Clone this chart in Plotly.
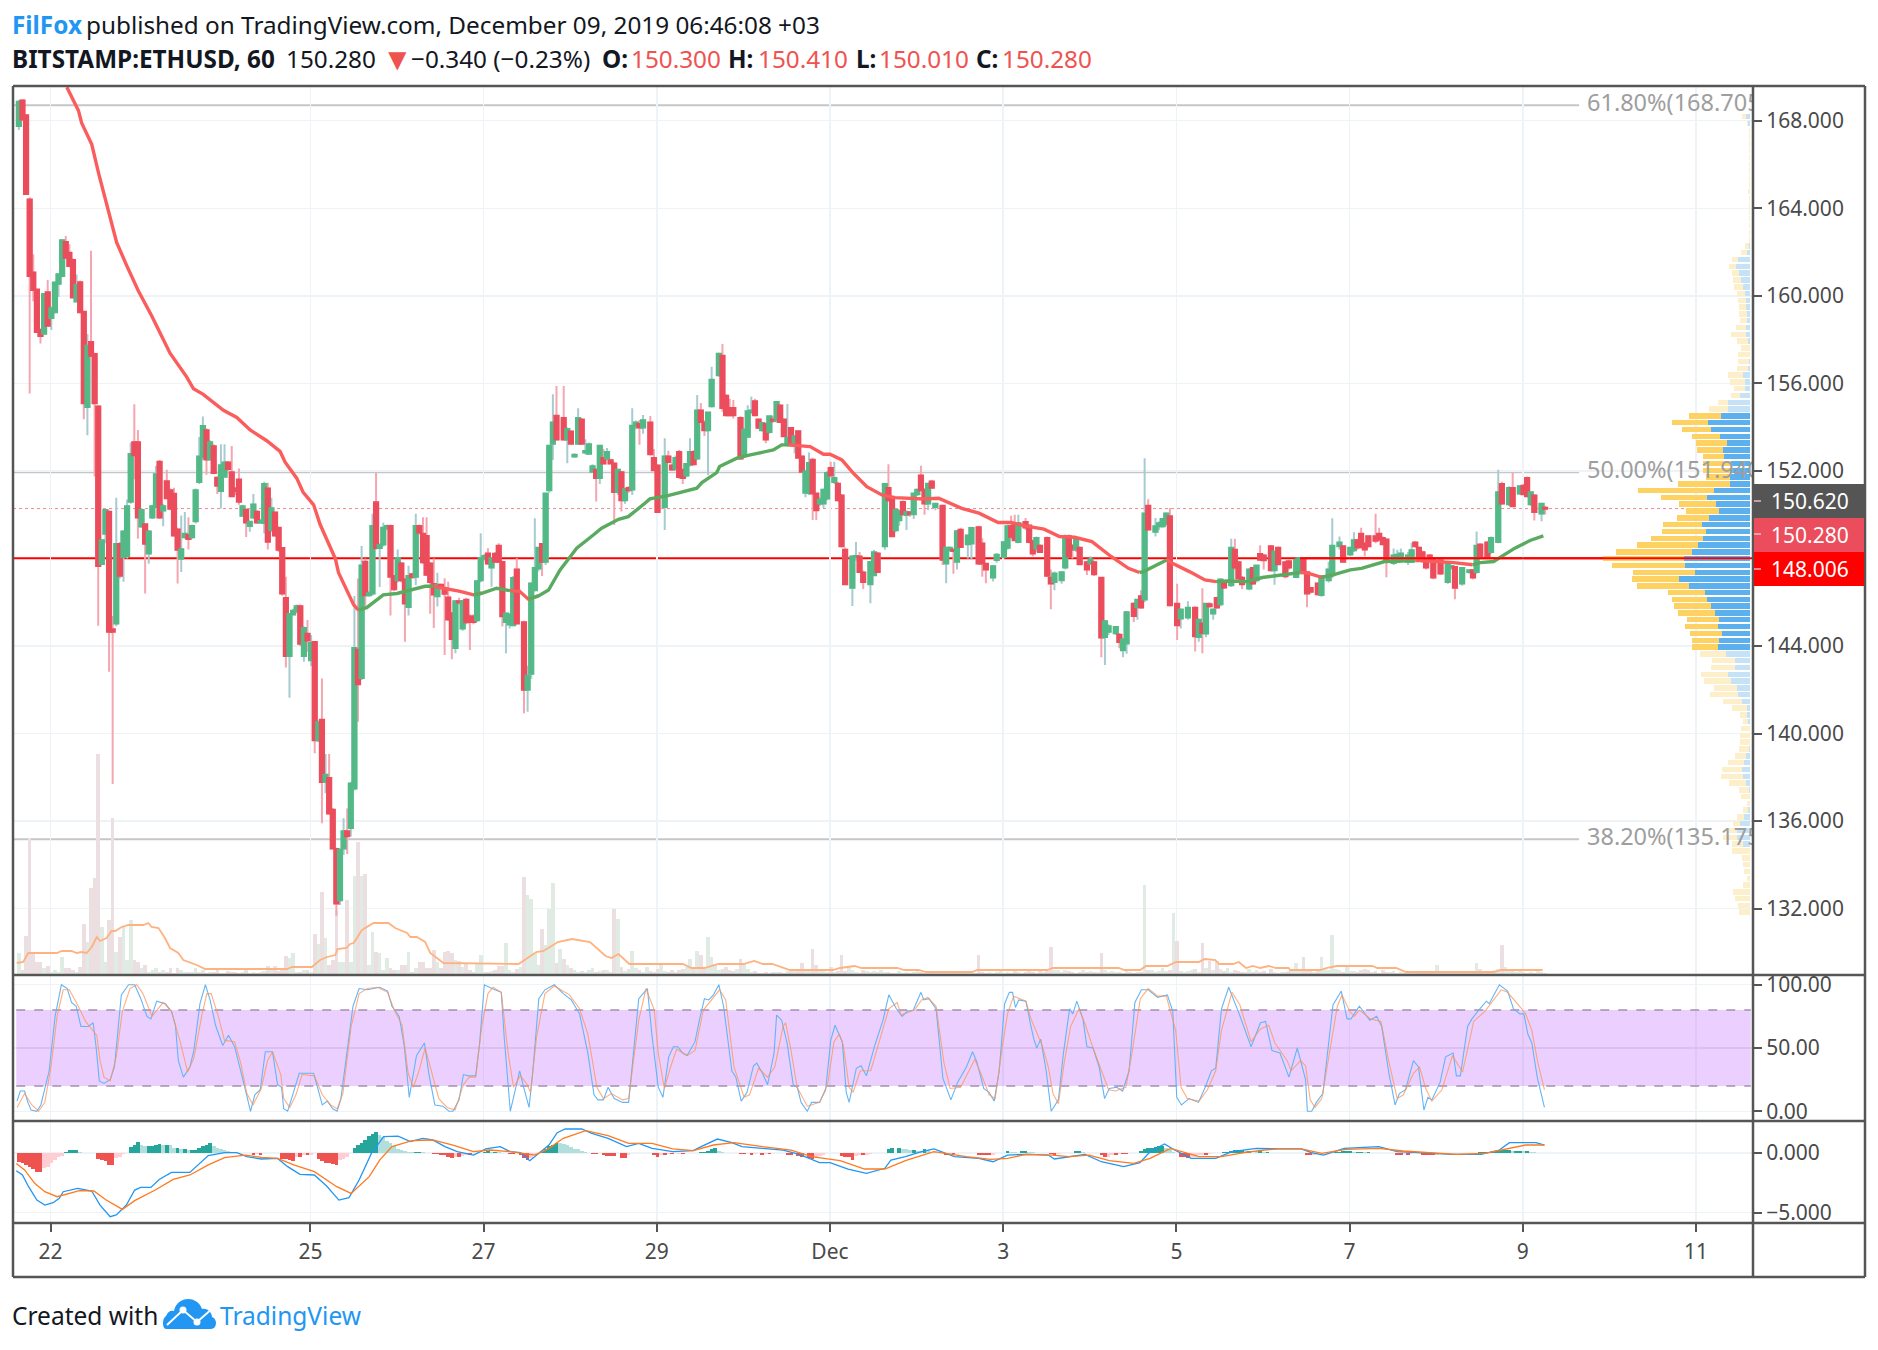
import plotly.graph_objects as go

W, H = 1878, 1350
FONT = "Noto Sans"

# ---------- candles (hour offsets from Nov 22 00:00, +03) ----------
bar_hours = list(range(-9, 119)) + [
119,120,121,122,123,124,125,126,127,128,129,131,132,133,134,135,136,137,138,139,140,
142,143,144,145,146,147,148,149,150,151,152,153,154,155,156,157,158,159,160,161,162,163,164,
166,167,168,170,171,172,173,174,175,176,177,178,179,180,181,182,183,185,186,187,188,189,
191,192,193,194,195,196,197,198,199,200,201,202,203,204,205,206,207,208,209,210,211,212,213,214,215,216,217,218,219,220,
222,223,224,225,227,228,229,231,232,233,234,235,236,237,238,239,240,241,242,243,244,245,247,248,249,250,251,252,
254,255,257,258,259,261,262,264,265,266,267,268,270,271,272,273,274,276,277,278,280,281,282,283,284,285,287,288,289,
291,292,293,295,296,297,298,300,301,302,303,304,306,307,308,309,310,312,313,315,317,318,319,320,321,322,323,324,325,
327,328,329,330,332,333,334,335,336,338,339,340,342,343,345,346,347,348,349,351,352,354,355,357,358,360,361,362,363,364,365,
367,368,369,370,372,373,374,376,377,378,379,380,381,382,383,385,387,388,389,391,393,394,395,396,398,399,401,402,404,405,407,408,409,410,411,413,414]

opens = [
167.77,168.91,168.23,164.39,161.05,160.27,158.44,158.28,160.15,159.0,
159.26,160.56,160.92,162.44,161.95,161.62,159.75,160.61,159.26,154.93,
157.87,157.33,154.93,147.76,149.14,150.12,144.75,145.04,148.65,148.08,
148.13,150.61,153.3,153.3,149.47,149.55,148.24,149.88,150.37,152.4,
150.2,151.51,151.1,150.94,149.31,148.0,148.98,149.06,148.98,149.71,
151.51,152.65,153.84,152.54,153.11,151.67,151.1,151.75,152.37,151.92,
151.18,151.59,149.96,150.2,149.5,149.88,150.12,149.66,149.63,151.18,
149.31,150.09,149.39,148.46,146.18,143.56,145.45,145.6,145.8,143.56,
144.55,143.36,144.17,139.71,140.62,137.8,137.96,136.51,134.71,132.4,
134.76,135.52,135.7,137.5,143.82,142.55,147.84,146.33,146.41,150.56,
148.49,148.65,149.39,149.47,147.18,147.02,147.76,147.02,145.8,147.27,
147.18,149.47,149.11,149.01,147.76,146.82,146.29,146.78,146.61,146.2,
145.47,143.92,146.03,144.81,146.1,145.34,145.34,145.19,
147.02,148.0,148.21,147.6,148.2,148.57,147.83,145.11,145.0,144.96,147.48,145.07,142.02,142.75,146.56,147.55,148.65,147.86,151.13,153.26,154.51,
154.4,153.45,153.79,152.67,153.26,154.33,152.85,152.8,151.97,152.04,151.69,152.58,152.58,152.47,152.32,151.05,151.92,150.67,151.2,151.16,154.05,154.13,154.0,
154.2,152.58,152.23,150.37,152.65,152.23,152.12,152.85,152.04,151.8,152.3,152.85,152.58,154.75,154.2,153.87,154.97,156.38,157.25,155.42,154.86,154.86,
154.4,152.73,153.57,154.7,155.17,154.33,153.87,154.13,153.79,154.33,154.33,154.97,154.33,153.2,153.95,153.19,153.8,152.65,151.02,151.0,152.5,150.95,150.52,150.52,150.75,152.12,151.51,151.4,150.86,148.39,
146.67,148.08,148.08,147.35,146.84,147.25,148.21,148.57,151.21,150.67,149.3,149.76,150.57,150.0,150.1,150.03,150.95,151.78,151.13,150.52,151.5,150.37,150.4,147.78,148.4,148.39,147.86,149.3,
148.66,148.7,149.41,148.67,147.75,147.14,147.94,148.09,148.5,149.46,149.53,148.77,149.65,149.49,148.77,148.47,148.57,148.92,147.1,146.94,147.02,147.6,149.0,148.57,148.42,148.47,147.81,147.78,147.81,
147.1,144.43,144.66,144.6,144.5,143.82,144.13,145.92,145.8,146.26,146.14,150.4,149.23,149.49,149.49,149.6,149.91,145.92,145.27,145.32,145.73,144.43,145.01,144.58,145.9,145.5,146.18,145.92,146.91,
146.79,148.39,147.81,147.1,146.64,147.55,147.02,148.19,148.12,148.54,147.48,148.47,147.81,147.86,147.17,147.48,147.93,147.36,146.64,146.84,146.34,147.02,147.25,148.57,148.54,148.2,148.39,148.82,149.12,148.66,149.0,
149.0,149.12,148.92,148.85,147.81,147.86,147.96,147.86,147.86,148.72,148.47,148.27,147.96,148.12,147.93,147.9,146.94,147.6,147.6,146.87,147.4,147.45,147.4,148.62,148.72,148.31,148.77,151.39,150.49,151.21,150.98,151.31,151.66,150.49,150.86,150.07,150.3]

highs = [
168.95,168.98,168.3,164.5,161.9,160.3,158.5,160.1,160.72,159.5,
160.65,161.0,162.6,162.73,162.36,161.7,160.97,160.7,159.3,158.25,
162.06,157.4,155.0,148.82,150.25,150.2,145.37,150.77,148.75,149.3,
150.69,153.3,155.05,153.87,150.3,149.6,149.3,150.45,152.24,152.5,
150.5,152.05,151.2,151.23,149.4,149.96,150.12,149.88,149.55,151.2,
153.55,154.49,153.95,153.4,153.22,151.75,153.22,153.22,152.45,153.14,
151.25,152.11,150.45,150.3,149.7,150.94,150.2,149.8,151.51,151.46,
150.77,150.15,149.45,148.5,147.17,145.5,145.7,145.9,145.9,144.9,
145.19,144.5,144.2,140.6,142.52,139.07,139.07,136.6,134.8,134.7,
136.13,136.58,137.8,146.28,147.09,148.57,148.0,146.5,150.04,151.92,
148.7,149.63,149.55,149.55,147.25,148.41,147.85,147.1,147.67,147.35,
150.04,149.55,149.88,149.88,147.85,148.0,147.35,146.85,147.1,146.94,
145.55,146.1,146.2,146.1,146.2,145.45,145.45,147.0,
149.15,148.2,148.47,148.05,148.3,148.7,147.9,145.5,145.5,147.2,148.01,145.15,143.1,146.9,149.84,148.5,148.7,151.0,153.2,155.5,155.88,
155.88,154.0,153.85,152.8,154.86,154.4,153.45,153.3,152.3,152.1,153.2,153.0,153.05,152.55,152.4,152.1,152.0,151.2,151.3,154.86,154.3,154.33,154.55,
154.51,153.0,152.3,153.49,152.92,152.35,152.7,152.95,152.1,152.35,153.49,152.95,155.47,155.1,154.3,154.7,156.76,157.4,157.8,155.5,155.3,155.24,
154.5,153.95,155.0,155.4,155.3,154.4,154.25,154.2,154.5,154.5,155.14,155.05,154.4,155.06,154.0,153.6,153.85,152.7,152.0,152.84,152.6,151.0,150.8,151.2,152.0,152.42,152.42,151.5,150.95,148.5,
148.15,148.75,148.3,147.45,147.9,148.4,148.3,151.45,152.3,150.75,150.25,150.2,150.65,150.2,150.15,151.0,151.2,152.23,151.2,151.45,151.6,150.55,150.45,148.5,148.55,148.45,149.3,149.4,
149.1,149.45,149.5,148.92,147.8,147.7,148.25,148.8,149.55,149.95,150.0,150.0,149.85,149.55,148.85,149.0,148.65,149.0,147.5,147.4,147.4,149.1,149.1,148.65,148.9,148.55,147.9,148.1,147.9,
147.15,145.2,145.0,144.9,144.6,144.35,145.6,146.0,146.15,146.55,152.58,150.7,149.85,149.7,149.85,150.1,150.3,146.85,145.7,146.05,145.8,145.25,146.64,145.95,146.0,145.7,146.25,147.1,147.0,
148.9,148.9,147.9,147.2,147.55,147.6,147.7,148.6,148.2,148.6,148.35,148.55,147.9,147.95,148.0,148.05,148.0,147.4,146.7,146.9,147.2,147.85,149.84,149.0,148.6,148.5,149.2,148.9,149.4,148.75,149.05,
150.04,149.4,149.0,148.9,148.45,148.4,148.45,148.3,148.72,148.8,148.55,148.35,148.05,148.2,148.0,148.0,147.9,147.7,147.65,147.6,147.5,147.5,149.23,148.7,148.8,149.0,152.05,151.5,151.3,151.94,151.35,151.4,151.75,151.05,150.95,150.55,150.41]

lows = [
167.58,168.0,164.6,155.54,159.75,158.3,157.82,158.25,158.6,158.44,
159.2,159.94,160.85,161.7,161.3,159.9,159.7,159.2,154.36,153.63,
157.2,151.75,144.93,147.7,148.7,142.83,137.7,144.9,147.1,146.94,
148.0,150.5,151.62,148.9,149.4,146.4,147.76,149.8,150.3,149.8,
149.47,150.7,150.2,149.0,146.86,147.38,148.9,148.41,148.9,149.6,
151.4,152.5,151.83,152.5,151.85,150.94,150.28,151.7,152.0,150.8,
150.9,150.45,149.9,148.98,149.22,149.8,149.6,149.6,149.14,148.41,
149.2,149.0,148.3,146.3,143.02,141.64,145.4,145.5,144.0,143.28,
143.74,143.09,139.1,139.6,135.9,137.27,136.3,134.7,131.68,132.17,
134.45,134.5,135.3,137.4,140.54,142.45,145.7,146.25,146.3,148.4,
146.7,148.55,149.3,145.39,146.5,146.9,146.9,144.2,145.39,147.1,
146.78,149.1,147.75,147.2,145.47,144.82,145.8,146.6,143.59,145.15,
143.4,143.67,145.9,144.7,145.0,143.82,145.0,145.1,
146.9,147.9,147.7,146.71,147.8,147.8,144.89,143.67,144.8,144.9,145.0,140.93,141.0,142.5,146.5,147.4,147.2,147.7,151.0,152.5,153.4,
153.4,152.35,153.2,152.6,153.2,153.2,152.75,152.75,151.9,150.6,151.4,152.3,152.5,152.3,149.53,150.9,150.14,150.5,151.0,150.9,153.9,153.2,153.7,
152.7,152.0,150.1,149.3,152.35,152.0,152.0,151.65,151.4,151.7,152.2,152.25,152.5,154.2,153.6,151.8,154.9,156.3,154.7,154.5,154.5,154.4,
152.5,152.6,153.5,154.6,154.5,153.9,153.8,153.26,153.7,154.2,154.2,154.2,153.55,153.1,153.1,152.8,152.55,151.9,150.8,150.9,149.76,149.76,150.4,150.3,150.65,151.75,151.4,150.6,148.5,146.8,
145.83,147.9,147.35,146.6,145.95,147.2,147.35,148.4,150.6,149.0,149.2,149.5,150.0,149.3,149.9,149.8,150.85,151.1,150.0,150.2,151.2,150.2,147.7,146.87,148.3,147.3,147.5,148.5,
148.0,147.93,147.7,147.17,146.87,146.95,147.8,148.0,148.4,148.9,148.8,148.7,149.3,148.7,148.1,148.3,148.25,147.15,145.68,146.55,146.85,147.5,148.05,148.0,148.3,147.7,147.25,147.7,147.2,
143.49,143.13,144.5,144.5,143.9,143.49,143.65,145.1,145.2,145.7,146.0,149.3,149.0,149.3,149.4,149.5,145.8,144.28,144.8,145.2,143.75,144.2,143.67,144.4,145.75,145.2,145.7,145.8,146.6,
146.7,147.5,147.0,146.6,146.55,146.8,146.9,147.9,147.5,147.4,146.8,147.7,147.1,147.5,147.1,147.4,147.3,145.77,146.4,146.3,146.25,146.9,147.1,148.4,147.8,148.1,148.3,148.4,148.45,148.1,148.5,
148.7,148.8,148.6,147.14,147.7,147.8,147.8,147.7,147.8,148.5,147.9,147.8,147.5,147.85,147.05,147.25,146.85,147.5,146.14,146.75,147.3,147.05,147.3,148.0,148.0,148.2,148.7,150.45,150.4,150.35,150.9,150.9,150.8,150.4,149.73,149.7,150.01]

closes = [
168.85,168.07,164.67,160.92,160.28,158.36,158.18,160.07,158.64,159.42,
160.59,160.97,162.52,161.75,161.38,159.94,160.48,159.26,155.1,157.71,
157.27,155.1,147.67,148.82,150.2,144.66,144.66,148.65,147.22,149.22,
150.37,152.76,152.73,149.88,150.2,148.69,149.22,150.37,151.83,149.88,
150.37,150.77,150.28,149.06,148.41,148.41,149.11,148.9,149.47,151.1,
152.65,154.04,152.54,153.3,151.92,151.34,152.24,152.37,152.1,150.86,
151.1,150.61,150.37,149.66,149.66,150.45,149.66,149.7,151.39,148.78,
150.28,149.06,148.41,146.41,143.56,145.45,145.6,145.8,144.12,144.81,
144.27,144.12,139.71,140.5,137.8,138.1,136.36,134.76,132.25,134.68,
135.52,135.32,137.7,143.9,142.27,147.67,146.33,146.4,149.47,148.49,
148.6,149.39,149.47,147.18,146.61,148.0,147.02,145.96,147.18,147.15,
149.47,149.2,147.84,147.27,146.94,146.37,146.78,146.7,146.4,145.23,
144.33,146.03,146.0,146.03,145.1,145.11,145.11,146.94,
148.0,148.1,147.78,148.0,147.86,147.86,145.37,145.47,145.42,147.09,145.04,142.02,142.63,146.84,147.55,148.47,147.86,150.95,153.14,154.2,153.45,
153.45,153.9,153.26,152.73,154.4,153.26,152.9,153.2,152.2,151.69,153.14,152.35,152.85,152.35,151.05,152.04,150.67,151.16,151.13,154.05,154.2,154.0,154.3,
152.77,152.04,150.14,152.65,152.42,152.08,152.58,151.74,151.69,152.3,152.85,152.32,154.75,154.25,153.87,154.66,156.15,157.34,154.89,154.56,154.56,154.56,
152.58,153.87,154.71,154.75,154.56,153.98,154.18,153.45,154.48,154.3,155.14,154.25,153.6,153.5,153.19,153.57,152.62,151.97,151.97,152.35,150.98,150.22,150.67,151.13,151.89,151.8,151.66,150.67,148.57,146.84,
148.08,148.1,147.4,146.94,147.83,148.27,147.4,151.39,150.67,149.03,150.2,150.14,150.03,150.1,150.06,150.95,151.13,151.13,150.52,151.4,151.25,150.49,147.96,148.47,148.47,148.36,149.23,148.54,
149.03,149.38,147.78,147.78,147.51,147.63,148.16,148.73,149.46,149.0,148.85,149.61,149.43,148.77,148.24,148.92,148.31,147.22,146.87,147.3,147.36,149.0,148.12,148.42,148.85,147.75,147.51,147.94,147.29,
144.4,145.12,144.89,144.85,144.2,144.28,145.53,145.38,146.1,145.77,150.04,149.34,149.46,149.6,149.79,150.04,145.88,144.96,145.65,145.73,144.46,145.19,144.61,145.92,145.83,145.65,145.77,147.02,146.69,
148.47,147.6,147.1,146.84,147.48,146.87,147.66,147.96,147.93,147.48,148.31,147.75,147.2,147.6,147.93,148.01,147.4,146.41,146.49,146.38,147.17,147.48,148.57,148.72,147.86,148.47,148.82,148.51,148.54,148.42,148.57,
148.82,148.88,148.66,147.86,148.12,148.16,148.21,148.12,148.36,148.57,147.96,147.9,147.6,147.93,147.14,147.33,147.81,147.64,146.67,147.55,147.45,147.14,148.57,148.09,148.06,148.92,151.01,150.52,151.21,150.4,151.28,150.95,150.86,151.01,150.14,150.49,150.28]

# ---------- moving average ----------
ma_red_hours = [4.5,7.7,8.6,11.4,13.4,16.5,18.3,21.1,24.3,28,29.4,33.1,37.7,39.6,42.3,47.9,51.6,55.3,59.9,63.6,65,68.2,70,72.9,74.7,78.9,79.8,84,85.3,None,
106.1,110.3,113.5,117.2,119.5,None,127.3,130,132.4,135.2,None,204.5,210.5,214.2,216,219.3,222.5,226.2,230.4,234,238.2,241.9,246.1,250.2,252.5,257.3,262.6,266.3,270,275.3,279.6,283.8,288.6,293.9,298.7,301.8,None,
309.3,310.9,315.6,319.9,323,None,346.4,348.5,352.2,355.4,None,378.2,379.3,388.8,394.1]
ma_red_values = [169.53,168.47,167.9,166.92,165.54,163.66,162.44,161.38,160.23,159.09,158.6,157.38,156.3,155.75,155.5,154.77,154.44,153.87,153.38,152.89,152.4,151.67,151.02,150.45,149.55,148.0,147.35,145.88,145.64,None,
146.73,146.61,146.5,146.34,146.41,None,146.53,146.5,146.14,146.29,None,153.19,153.11,152.76,152.76,152.5,151.89,151.28,150.9,150.78,150.75,150.72,150.75,150.45,150.29,150.07,149.64,149.64,149.49,149.34,149.0,148.97,148.77,148.09,147.55,147.36,None,
147.93,147.78,147.4,147.02,146.94,None,147.36,147.33,147.14,147.25,None,147.9,147.9,147.81,147.71]
ma_green_hours = [85.3,87.6,92.2,96,103.8,106.1,None,117.2,119.5,123.6,127.3,None,132.4,135.2,138,141.2,144,145.8,150.4,152.7,157.4,160.1,164.7,166.1,170.8,174.5,179.1,180.5,184.6,185.4,190.2,193.9,200.3,202.6,204.5,None,
301.8,302.9,309.3,None,323,326.2,331.5,335.8,346.4,None,352.2,355.4,360.2,363.3,369.7,378.2,None,394.1,396.2,399.9,405.8,410,413.7]
ma_green_values = [145.64,145.75,146.34,146.4,146.73,146.73,None,146.34,146.41,146.64,146.53,None,146.14,146.29,146.56,147.48,148.08,148.47,149.07,149.38,149.79,149.91,150.52,150.72,150.86,151.01,151.21,151.47,151.92,152.2,152.58,152.73,152.96,153.19,153.19,None,
147.36,147.4,147.93,None,146.94,146.97,146.94,147.13,147.36,None,147.14,147.25,147.48,147.55,147.86,147.9,None,147.71,147.81,147.86,148.47,148.82,149.03]

# ---------- volume ----------
vol_values = [
22,5,39,137,22,13,13,7,9,3,
5,3,18,7,7,5,3,8,51,33,
87,97,221,48,13,55,157,23,38,48,
15,55,15,13,7,10,3,5,7,3,
5,3,7,2,7,5,3,3,3,7,
3,5,2,3,3,5,2,2,4,3,
3,2,3,5,2,3,2,3,4,9,
5,9,4,6,19,17,22,3,3,5,
5,3,41,31,83,37,10,15,65,13,
13,75,13,99,133,99,101,10,43,23,
22,5,17,7,5,5,10,10,23,3,
7,13,13,7,7,25,13,7,23,24,
22,15,14,8,11,5,3,12,20,3,
3,4,5,9,9,32,5,3,6,8,
98,80,76,22,10,46,30,66,92,12,
26,16,10,7,5,3,4,3,5,7,
3,4,5,5,3,66,56,8,4,6,
24,7,5,3,8,4,3,6,11,4,
3,5,3,5,6,8,16,8,24,20,
6,38,18,11,5,6,8,5,4,6,
16,12,6,3,4,2,2,3,2,3,
3,3,2,4,5,6,4,12,4,5,
26,10,4,5,3,8,3,4,20,4,
9,5,3,2,5,4,3,4,3,5,
3,3,2,2,4,2,3,2,3,5,
3,2,3,2,2,4,3,2,3,2,
3,2,3,2,3,2,20,3,2,3,
2,3,5,2,3,2,4,3,2,3,
5,3,2,6,3,4,28,5,5,3,
5,4,3,2,3,5,3,4,3,3,
22,5,3,4,3,3,2,4,3,2,
3,3,90,5,5,3,4,7,4,5,
62,34,4,3,4,5,6,3,32,7,
14,5,14,6,4,7,3,5,4,3,
3,6,3,5,3,4,2,6,3,2,
3,3,4,5,12,5,18,4,6,3,
4,18,7,5,40,6,5,3,9,4,
4,3,5,6,5,3,4,2,5,3,
3,4,2,3,2,3,2,4,3,2,
2,3,4,10,3,2,3,4,2,3,
2,4,3,3,12,6,3,4,3,5,
6,30,8,4,5,3,5,3,2,3,2,4,3,2]
vol_hours = list(range(-9, 415))

vol_ma_hours = [-9.4,-7.6,-6.2,-4.8,1.7,3.1,5.8,7.2,8.6,10,11.4,12.8,13.7,15.5,16.9,17.9,19.7,21.6,25.7,27.1,28,29.9,31.7,33.1,35.4,36.8,40.5,42.8,65.5,66.9,72.4,74.7,76.6,78.9,79.5,82,83,84,86.3,89.5,93.6,95.5,98.8,99.7,101.5,103.8,105.2,108.9,
129.7,134.6,136.6,140.6,144.5,149.5,153.8,155.4,157.4,160.4,175.2,177.6,181.2,185.1,192,195,197.4,200,204.9,216.8,218.8,222.8,224.7,234.6,236.6,240.6,242.6,255.4,256.8,276.2,277.8,296,297.6,302,303.5,309.5,311.9,318.2,319.8,322.8,323.8,327.7,329.3,331.3,333.2,335.2,337.6,339.6,343.1,343.5,351.9,353.5,356.4,366.3,367.7,372.9,375.6,400,402,413.5]
vol_ma_values = [12,13,22,22,22,24,24,22,23,22,28,38,34,37,44,44,48,50,50,52,48,47,37,27,22,15,10,6,6,8,8,15,18,20,26,27,31,32,45,52,52,47,42,38,38,33,22,12,
11,23,24,33,36,33,19,17,21,11,11,7,7,11,11,14,11,11,5,5,7,9,7,7,5,5,3,3,5,5,7,7,5,5,9,9,13,13,16,15,11,11,13,7,9,7,9,7,7,5,5,7,9,9,7,7,3,3,5,5]

# ---------- volume profile ----------
vp_prices = [168.18,167.87,167.56,167.25,166.94,166.63,166.32,166.01,165.70,165.39,165.07,164.76,164.45,164.14,163.83,163.52,163.21,162.90,162.59,162.28,
161.97,161.66,161.35,161.04,160.73,160.41,160.10,159.79,159.48,159.17,158.86,158.55,158.24,157.93,157.62,157.31,156.99,156.68,156.38,
156.07,155.76,155.45,155.13,154.82,154.51,154.20,153.89,153.58,153.27,152.96,152.65,152.34,152.03,151.72,151.41,151.10,150.79,150.48,150.17,149.85,
149.54,149.23,148.92,148.61,148.30,147.99,147.68,147.37,147.06,146.75,146.44,146.13,145.82,145.51,145.20,144.88,144.57,144.26,143.95,143.64,
143.33,143.02,142.71,142.40,142.09,141.78,141.47,141.16,140.85,140.54,140.23,139.92,139.61,139.29,138.98,138.67,138.36,138.05,137.74,137.43,
137.12,136.81,136.50,136.19,135.88,135.57,135.26,134.95,134.64,134.32,134.01,133.70,133.39,133.08,132.77,132.46,132.15,131.84]
vp_up = [12,5,0,0,0,0,0,0,0,0,0,0,0,0,0,0,0,0,0,2,
9,36,42,34,27,22,15,13,13,9,10,13,11,6,0,0,3,6,21,
15,15,30,65,66,87,126,117,90,69,80,78,57,61,60,60,108,129,102,93,124,
144,132,140,155,174,198,195,164,213,183,135,128,118,106,93,97,85,93,97,72,
45,45,66,57,39,36,25,9,8,5,0,0,0,3,12,19,25,21,12,3,
0,0,6,18,30,38,40,20,0,0,0,0,0,0,0,0,0,0]
vp_down = [13,5,2,2,2,2,2,2,2,2,2,5,3,3,3,2,2,3,3,12,
19,19,20,19,25,26,25,23,21,23,20,29,46,32,26,35,33,32,46,
44,33,28,31,57,95,107,86,85,93,78,63,84,80,72,155,227,138,111,99,95,
116,133,158,185,227,243,219,188,141,156,112,106,110,110,96,98,95,81,77,78,
69,73,81,81,69,84,57,46,22,17,26,30,30,30,33,48,59,65,51,30,
27,9,15,21,20,25,42,35,55,23,20,18,10,22,52,44,36,32]

# ---------- levels ----------
fib_levels = [168.705, 151.94, 135.175]
fib_labels = ["61.80%(168.705)", "50.00%(151.940)", "38.20%(135.175)"]
support_level = 148.006
last_price = 150.28

# ---------- stochastic ----------
k_hours = [-9.3,-8.4,-7.2,-6.3,-5.4,-3.8,-2.7,-.4,1.25,3,4.6,5.8,7.1,8.4,10.5,11.8,12.6,13.5,14.8,16.5,17.7,19.6,21.6,23.3,25,26.7,27.8,29.4,31.8,33.5,34.6,35.4,36.8,38.6,39.7,41.4,42.9,44.2,45.7,47.7,49.3,51,53.8,55.4,56.6,58.1,59.5,61.5,62.9,64,64.6,65.7,67.2,68.9,72.9,74.2,75.3,76.7,78.2,79.4,80.4,82.1,83.8,85.5,87.8,91.2,93.4,94.6,96.6,98,99.4,101.4,103.6,104.8,106.5,108.7,110.4,111.5,113.2,114.4,115.8,117.8,118.9,120.2,122.3,124.9,125.7,127.4,128.7,130,131.1,132.6,133.6,135.3,137,139.6,142.1,144.3,146.6,148.9,150.6,151.7,153.2,154.5,156.2,158.5,160.2,163,
165.4,166.7,168.4,169.7,171.3,172.6,173.8,175.2,176.4,178.6,179.8,181.2,182.4,183.7,185.2,186.5,188.8,189.9,191.4,193,194.8,195.7,197.3,198.7,200.5,201.2,202.6,204.1,205.8,206.9,208,209.7,210.9,213.1,214.8,216.2,217.4,219.4,220.5,221.3,223.3,224.6,226.1,228.4,230.7,232.3,234.4,236,237.4,239.1,241.2,242,243.4,245.4,247.3,249.5,251.4,253.8,255.5,256.7,258.6,260.1,261.5,262.9,264.4,265.7,266.6,267.4,268.3,270.3,271.7,272.5,273.3,274.4,275.9,277.3,279.3,280.7,282.4,283.3,284.4,286.1,287.2,288.9,290.6,292.1,293.4,295.5,297.1,298.9,300.5,302.3,304.2,306.8,309.5,311,312.1,313.4,315.5,318.1,320,321.7,322.9,324.5,326.5,329.4,332.7,335.3,336.7,338.5,340.7,343.2,345.5,347.8,348.3,349.5,350.8,352.6,355.4,357.7,359.3,360.4,362.7,365.6,367.5,368.9,370.9,372.6,373.8,375.5,377.7,379.1,380.6,381.7,382.8,385.1,386.6,388.7,389.6,390.7,392.7,393.9,395.8,397.9,398.7,401.5,403.8,405.4,407.2,408.3,409.4,410.5,412,414]
k_values = [8,16,16,7,1,0,5,32,75,100,97,86,83,67,67,70,51,24,22,25,35,92,100,100,89,75,73,87,85,79,68,40,27,35,48,85,100,88,68,52,60,51,19,0,13,17,47,47,21,19,2,0,14,30,30,17,5,8,2,0,9,46,83,97,96,98,95,83,75,52,11,44,54,30,5,4,0,0,9,29,28,28,54,100,97,94,59,0,15,32,19,3,30,89,96,100,93,88,77,46,13,9,9,19,10,7,7,89,
97,59,19,11,43,51,51,46,44,55,72,89,88,92,100,83,32,27,8,15,36,38,30,21,46,76,72,54,21,19,7,0,7,7,17,56,68,55,15,7,34,36,28,52,72,92,81,75,79,80,94,88,89,81,26,9,23,35,47,39,18,15,8,32,85,94,94,82,88,87,67,57,50,57,32,0,9,46,81,77,87,73,51,50,35,10,18,19,16,32,86,96,96,90,92,79,11,5,10,7,19,32,34,81,98,77,51,70,71,48,46,27,50,25,0,0,7,14,84,95,73,73,83,72,75,67,30,5,14,17,40,35,1,11,9,23,43,46,28,28,67,73,80,87,85,100,95,81,77,77,61,54,27,3]
d_hours = [-9.3,-7.2,-5.2,-3.3,-1.6,.1,1.8,3.5,5.2,7.5,9.7,12.8,13.7,14.8,16.5,18.2,19.9,22,23.9,25.6,28.1,31.2,33.5,35.8,38,39.7,42,43.3,44.5,46.5,48.2,51,52.7,54.4,56.1,58.4,60.1,61.5,63.8,64.6,66.3,68,69.7,73.1,75.3,77.6,79.4,81,83.3,85.5,87.8,90.6,93.4,95.1,97.4,99.1,100.5,101.9,103.8,105.7,107.6,109.9,112.1,114.4,116,117.8,119.5,121.2,122.6,124.9,126.8,128.3,130.2,131.9,133,134.7,137,139.6,143.8,146.6,148.9,151.4,153.2,155.4,158.5,160.2,163,
165,167.3,168.4,170.1,171.8,173.5,176.4,178.6,180.9,183.2,185.4,187.1,189.4,192.2,193.7,196.2,198.7,200.7,203,203.7,205.2,206.9,209.7,213.1,215.4,217.1,218.6,219.7,221.3,222.4,224.4,227.3,230.1,232.3,234.6,235.7,239.4,241.4,243.1,245.4,247.6,249.3,252.2,256.1,257.8,260.1,261.8,263.5,265.2,266.9,270.3,271.7,274.8,276.5,277.8,279.3,281,282.7,285,286.7,288.9,291.2,293.2,295.1,298,299.7,302,304.2,306.8,309.2,311.8,313.3,315,318.3,320.6,322.9,324.5,327.4,329.6,332.7,335.3,337.6,339.3,342.7,343.8,346.4,347.8,349.1,350.4,352.3,354.5,356.6,357.9,360,361.3,362.7,365.8,368.7,370.9,373.2,374.9,377.7,379.4,381.1,382.8,385.6,388.5,391.3,394.4,397.5,402,403.8,407.7,408.8,410.5,412.2,414]
d_values = [3,14,5,0,7,35,75,96,96,84,71,60,40,27,24,43,79,97,100,93,75,86,79,56,31,42,77,93,93,75,56,55,38,14,5,18,40,47,29,10,3,13,29,28,13,5,2,14,67,93,97,98,94,81,68,30,19,30,50,30,10,3,1,21,27,27,67,93,98,94,46,19,28,22,15,59,93,99,92,81,61,19,10,14,9,10,72,
97,80,46,18,35,49,44,48,80,88,96,88,35,11,13,34,27,35,67,70,48,19,4,7,22,55,61,52,19,15,32,32,59,81,86,76,80,88,90,83,38,18,19,41,30,13,10,46,77,91,87,73,52,35,14,6,40,67,81,69,50,32,17,16,19,46,89,97,91,91,64,19,10,8,17,32,64,94,84,55,65,68,54,40,32,40,36,9,3,10,46,83,92,79,75,80,73,71,39,10,13,30,35,18,8,17,44,31,71,79,96,94,81,77,64,38,17]

# ---------- MACD ----------
macd_hours = [-9.5,-7.8,-6.1,-3.8,-1.6,.7,2.4,3.5,7.5,11.4,13.7,16.5,18.2,21,23.3,25,27.8,30.1,33.5,38.6,43.7,48.2,51.6,54.4,58.4,62.9,65.7,69.1,73.1,76.5,79.9,82.7,85.5,88.9,92.3,96.3,99.7,103.1,105.9,109.3,112.7,117.2,120.6,124.6,127.4,130.2,132.8,135.3,138.1,140.4,142.6,147.2,150,154.5,159.6,163,
166.7,172.4,178.1,180.3,184.8,188.8,191.6,197.3,203,207.5,213.1,216,221,226.1,231.2,232.9,236.9,241.4,244.8,250.5,257.2,261.2,265.2,270.8,276.5,278.2,281,286.7,291.2,297.4,301.9,304.7,308.7,311.5,316.1,322.9,327.4,334.2,340.4,346.6,349.4,352.8,358.5,368.1,373.2,380.6,388.5,396.4,401.5,404.3,411.7,414]
macd_values = [-1.48,-1.84,-2.82,-3.94,-4.36,-4.16,-3.8,-3.24,-2.96,-3.18,-4.36,-5.33,-5.19,-4.36,-3.1,-2.88,-2.88,-2.21,-1.62,-1.62,-.22,.03,.03,-.31,-.5,-.45,-1.14,-1.79,-1.84,-2.76,-3.94,-3.74,-2.26,-.03,1.37,1.42,.95,1.23,1.09,.53,.11,-.17,.34,.53,.11,.03,-.64,-.03,.67,1.7,2.01,2.01,1.65,1.23,.53,.81,
.39,.11,.2,.53,1.17,.87,.53,.39,.25,-.11,-.81,-.81,-1.34,-1.7,-1.28,-.59,-.31,.11,.34,-.31,-.45,-.73,-.17,-.11,-.17,-.5,-.36,-.11,-.73,-1.14,-.81,.11,.75,.25,-.45,-.45,.11,.39,.34,.34,.03,-.17,.39,.53,.11,.03,-.11,-.11,.25,.87,.87,.67]
signal_hours = [-9.5,-7.2,-4.4,-1.6,1.8,5.8,8,12,15.4,19.9,23.3,29,34,38.6,43.7,48.2,53.9,58.4,62.9,67.4,73.1,79.3,83.3,88.3,91.2,94.6,100.2,105.9,111.5,117.2,121.7,127.4,134.2,138.1,142.1,148.3,154.5,160.2,163,
166.7,172.4,178.1,183.7,189.4,197.3,205.2,210.9,218.8,225.6,231.2,236.9,244.8,253.8,260.6,265.2,270.3,277.6,282.1,287.8,293.4,300.2,304.7,310.4,318.3,324.5,330.8,336.4,340.4,346.6,352.3,359,368.1,374.9,381.7,389.6,397.5,403.2,408.8,414]
signal_values = [-.87,-1.42,-2.54,-3.24,-3.66,-3.32,-3.15,-3.18,-3.94,-4.72,-3.99,-3.1,-2.21,-1.84,-1.0,-.39,-.17,-.36,-.45,-1.0,-1.56,-2.82,-3.38,-1.98,-.59,.53,1.03,1.09,.67,.11,.25,.11,-.17,.39,1.23,1.87,1.45,.81,.81,
.81,.34,.2,.67,.87,.53,.25,-.31,-.64,-1.34,-1.34,-.64,.11,-.31,-.53,-.45,-.11,-.17,-.31,-.17,-.64,-.87,-.45,.39,-.31,-.31,.03,.25,.34,.34,-.03,.31,.39,.17,.06,-.11,-.03,.34,.67,.67]
hist_hours = [-9,-8,-7,-6,-5,-4,-3,-2,-1,0,1,2,3,4,5,6,7,8,13,14,15,16,17,18,19,20,
22,23,24,25,26,27,28,29,30,31,32,33,34,35,36,37,38,39,40,41,42,43,44,45,46,47,48,49,50,51,56,57,58,
64,65,66,67,68,69,70,71,72,74,75,76,77,78,79,80,81,82,84,85,86,87,88,89,90,91,92,93,94,95,96,97,98,99,100,101,102,103,
106,107,108,109,110,111,112,113,114,115,116,120,121,122,123,124,127,128,130,131,132,133,134,136,137,138,139,140,141,142,143,144,145,146,147,148,
150,151,153,154,155,156,158,159,160,167,168,169,170,171,172,174,175,180,181,182,183,184,185,186,191,192,194,195,197,198,199,
204,205,207,208,210,211,212,213,214,219,220,221,222,223,224,225,226,227,232,233,235,236,237,238,239,240,241,242,243,245,248,249,250,257,258,259,260,261,
265,266,267,269,270,271,272,277,278,279,284,285,286,291,292,293,294,295,296,297,298,302,303,304,305,306,307,308,309,310,311,
313,314,315,316,317,318,319,320,321,325,326,327,328,329,330,331,332,334,335,336,337,348,349,350,356,357,358,359,360,361,362,363,364,365,
373,374,375,376,377,380,381,382,383,384,385,386,396,397,398,399,400,401,402,403,404,405,406,407,408,409,410,411]
hist_values = [-.73,-.87,-1,-1.14,-1.37,-1.56,-1.56,-1.28,-1.14,-.87,-.59,-.36,-.25,.1,.22,.25,.25,.05,-.5,-.6,-.7,-1,-1,-.4,-.3,-.1,
.5,.65,.9,.7,.6,.6,.6,.7,.75,.7,.7,.65,.4,.45,.3,.3,.28,.28,.28,.4,.6,.7,.8,.6,.45,.35,.25,.15,.1,.05,-.15,-.1,-.2,
-.5,-.5,-.55,-.65,-.3,-.3,-.2,-.2,-.15,-.5,-.65,-.8,-.85,-.9,-1,-.6,-.5,-.3,.45,.7,.85,1.1,1.45,1.6,1.8,1.55,1.3,1,.8,.55,.35,.25,.2,.1,.05,.1,.1,.05,
-.1,-.1,-.15,-.2,-.35,-.45,-.3,-.3,-.25,-.2,-.2,.1,.15,.1,.1,.05,-.1,-.1,-.2,-.4,-.6,-.4,-.2,.2,.35,.6,.7,.85,.8,.75,.7,.5,.35,.3,.15,.1,
-.1,-.1,-.2,-.25,-.25,-.25,-.4,-.4,-.15,-.2,-.3,-.15,-.15,-.12,-.12,-.1,-.1,.1,.12,.2,.3,.4,.15,.1,-.1,-.1,-.15,-.1,-.15,-.1,-.1,
-.15,-.2,-.25,-.35,-.4,-.5,-.3,-.25,-.2,-.25,-.3,-.35,-.55,-.25,-.2,-.2,-.15,-.1,.3,.4,.4,.35,.3,.25,.25,.2,.15,.3,.25,.1,-.15,-.1,-.1,-.15,-.2,-.2,-.2,-.15,
.15,.12,.1,.15,.15,.1,.05,-.1,-.15,-.1,.15,.15,.1,-.2,-.35,-.3,-.15,-.15,-.1,-.1,-.1,.2,.3,.4,.45,.5,.55,.6,.45,.3,.1,
-.3,-.35,-.45,-.35,-.3,-.2,-.15,-.15,-.1,.1,.12,.2,.25,.25,.25,.2,.2,.15,.15,.1,.1,-.2,-.2,-.15,.1,.1,.2,.2,.2,.1,.1,.1,.05,.05,
-.15,-.15,-.1,-.15,-.1,-.15,-.15,-.2,-.2,-.15,-.1,-.1,.1,.1,.1,.1,.15,.15,.25,.25,.25,.2,.2,.2,.15,.15,.1,.05]

# ---------- axis labels ----------
time_tick_hours = [0, 72, 120, 168, 216, 264, 312, 360, 408, 456]
time_tick_labels = ["22", "25", "27", "29", "Dec", "3", "5", "7", "9", "11"]
price_ticks = [132, 136, 140, 144, 152, 156, 160, 164, 168]
price_tick_labels = ["132.000","136.000","140.000","144.000","152.000","156.000","160.000","164.000","168.000"]
stoch_ticks = [0, 50, 100]
stoch_tick_labels = ["0.00", "50.00", "100.00"]
macd_ticks = [-5, 0]
macd_tick_labels = ["\u22125.000", "0.000"]

# ---------- page geometry (pixels) ----------
def px(x): return x / W
def py(y): return 1 - y / H

L, R, RR = 13, 1753, 1865
TOP, MAIN_B, STOCH_B, MACD_B, BOT = 86, 975, 1121, 1223, 1277
HOUR_MIN, HOUR_MAX = -10.42, 471.8
BAR_SHIFT = 0.2

GREEN, RED = "#53b987", "#eb4d5c"
WICK_G, WICK_R = "#a6cbd1", "#f5a6b0"
GRID = "#eef3f7"
FRAME = "#555555"
TXT = "#4a4a4a"

x_bars = [h + BAR_SHIFT for h in bar_hours]
body_hi = [max(o, c) for o, c in zip(opens, closes)]
body_lo = [min(o, c) for o, c in zip(opens, closes)]
dir_by_hour = {h: c >= o for h, o, c in zip(bar_hours, opens, closes)}

fig = go.Figure()

# volume (base subplot, under the candles)
vol_colors = ["#e0ece3" if dir_by_hour.get(h, True) else "#ecdfe1" for h in vol_hours]
fig.add_trace(go.Bar(x=[h + BAR_SHIFT for h in vol_hours], y=vol_values, width=1.0, marker=dict(color=vol_colors, line_width=0),
                     xaxis="x", yaxis="y4", hoverinfo="skip"))
fig.add_trace(go.Scatter(x=vol_ma_hours, y=vol_ma_values, mode="lines", line=dict(color="#ffb27f", width=1.8),
                         xaxis="x", yaxis="y4", hoverinfo="skip"))

# candles
fig.add_trace(go.Candlestick(x=x_bars, open=opens, high=highs, low=lows, close=closes, xaxis="x", yaxis="y",
    increasing=dict(line=dict(color=WICK_G, width=2), fillcolor="rgba(0,0,0,0)"),
    decreasing=dict(line=dict(color=WICK_R, width=2), fillcolor="rgba(0,0,0,0)"), hoverinfo="skip"))
fig.add_trace(go.Candlestick(x=x_bars, open=opens, high=body_hi, low=body_lo, close=closes, xaxis="x", yaxis="y",
    increasing=dict(line=dict(color=GREEN, width=2.6), fillcolor=GREEN),
    decreasing=dict(line=dict(color=RED, width=2.6), fillcolor=RED), hoverinfo="skip"))

# moving average
fig.add_trace(go.Scatter(x=ma_red_hours, y=ma_red_values, mode="lines", line=dict(color="#fb5c5c", width=3.4),
                         connectgaps=False, xaxis="x", yaxis="y", hoverinfo="skip"))
fig.add_trace(go.Scatter(x=ma_green_hours, y=ma_green_values, mode="lines", line=dict(color="#5aab5f", width=3.4),
                         connectgaps=False, xaxis="x", yaxis="y", hoverinfo="skip"))

# volume profile on its own reversed axis
VA_LOW, VA_HIGH = 143.8, 154.7
in_va = [VA_LOW <= p <= VA_HIGH for p in vp_prices]
fig.add_trace(go.Bar(y=vp_prices, x=vp_up, orientation="h", width=0.25, xaxis="x2", yaxis="y", hoverinfo="skip",
                     marker=dict(color=["#5cb0ee" if v else "#c6e2f6" for v in in_va], line_width=0)))
fig.add_trace(go.Bar(y=vp_prices, x=vp_down, base=vp_up, orientation="h", width=0.25, xaxis="x2", yaxis="y", hoverinfo="skip",
                     marker=dict(color=["#fdd262" if v else "#fdefc9" for v in in_va], line_width=0)))
fig.add_trace(go.Scatter(x=[0, 1350], y=[support_level, support_level], mode="lines", line=dict(color="#ff0000", width=2),
                         xaxis="x2", yaxis="y", hoverinfo="skip"))
fig.add_trace(go.Scatter(x=[489, 489, 489], y=fib_levels, text=fib_labels, mode="text", textposition="middle right",
                         textfont=dict(family=FONT, size=23.5, color="#9e9e9e"), cliponaxis=True,
                         xaxis="x2", yaxis="y", hoverinfo="skip"))

# stochastic
fig.add_trace(go.Scatter(x=k_hours, y=k_values, mode="lines", line=dict(color="#64b5f6", width=1.1), xaxis="x", yaxis="y2", hoverinfo="skip"))
fig.add_trace(go.Scatter(x=d_hours, y=d_values, mode="lines", line=dict(color="#ff9355", width=1.1), opacity=0.75, xaxis="x", yaxis="y2", hoverinfo="skip"))

# MACD
hist_colors = []
for i, v in enumerate(hist_values):
    prev = hist_values[i - 1] if i else 0
    if v >= 0:
        hist_colors.append("#26a69a" if v >= prev else "#b2dfdb")
    else:
        hist_colors.append("#ef5350" if v <= prev else "#ffcdd2")
fig.add_trace(go.Bar(x=[h + BAR_SHIFT for h in hist_hours], y=hist_values, width=1.0, marker=dict(color=hist_colors, line_width=0),
                     xaxis="x", yaxis="y3", hoverinfo="skip"))
fig.add_trace(go.Scatter(x=macd_hours, y=macd_values, mode="lines", line=dict(color="#2196f3", width=1.3), xaxis="x", yaxis="y3", hoverinfo="skip"))
fig.add_trace(go.Scatter(x=signal_hours, y=signal_values, mode="lines", line=dict(color="#ff7a1f", width=1.3), xaxis="x", yaxis="y3", hoverinfo="skip"))

# ---------- shapes ----------
shapes = []
def line_px(x0, y0, x1, y1, color=FRAME, width=2.5, layer="above"):
    shapes.append(dict(type="line", xref="paper", yref="paper", x0=px(x0), x1=px(x1), y0=py(y0), y1=py(y1),
                       line=dict(color=color, width=width), layer=layer))

# levels
FIB_END_HOUR = 423.6
for lv in fib_levels:
    shapes.append(dict(type="line", xref="x", yref="y", x0=HOUR_MIN, x1=FIB_END_HOUR, y0=lv, y1=lv,
                       line=dict(color="#c6c6c6", width=2), layer="below"))
shapes.append(dict(type="line", xref="x", yref="y", x0=HOUR_MIN, x1=HOUR_MAX, y0=support_level, y1=support_level,
                   line=dict(color="#ff0000", width=2), layer="below"))
shapes.append(dict(type="line", xref="x", yref="y", x0=HOUR_MIN, x1=HOUR_MAX, y0=last_price, y1=last_price,
                   line=dict(color="#f08a95", width=1, dash="dot"), layer="below"))
# stochastic band
shapes.append(dict(type="rect", xref="x", yref="y2", x0=HOUR_MIN + 0.9, x1=HOUR_MAX - 0.6, y0=20, y1=80,
                   fillcolor="rgba(153,21,255,0.2)", line_width=0, layer="between"))
for lv, col, dash in ((80, "#a78fb0", "dash"), (20, "#a78fb0", "dash"), (50, "#d8bcec", "solid")):
    shapes.append(dict(type="line", xref="x", yref="y2", x0=HOUR_MIN + 0.9, x1=HOUR_MAX - 0.6, y0=lv, y1=lv,
                       line=dict(color=col, width=1.5, dash=dash), layer="between"))
# frames
line_px(L, TOP, RR, TOP); line_px(L, BOT, RR, BOT); line_px(L, TOP, L, BOT); line_px(RR, TOP, RR, BOT)
line_px(R, TOP, R, BOT)
line_px(L, MAIN_B, RR, MAIN_B); line_px(L, STOCH_B, RR, STOCH_B); line_px(L, MACD_B, RR, MACD_B)

# price boxes
for (y0, y1, col) in ((484, 518, "#555555"), (518, 552, "#eb4d5c"), (552, 586, "#ff0000")):
    shapes.append(dict(type="rect", xref="paper", yref="paper", x0=px(R + 1), x1=px(RR - 1), y0=py(y1), y1=py(y0),
                       fillcolor=col, line_width=0, layer="above"))
for y in (501, 534, 569):
    line_px(R + 1, y, R + 8, y, color="#e8b8bd", width=1.5)

# TradingView logo
def P(x, y): return f"{px(x):.6f},{py(y):.6f}"
cloud = (f"M {P(166,1329)} C {P(162,1329)} {P(162,1318)} {P(166,1316)} C {P(168,1311)} {P(171,1310)} {P(174,1311)} "
         f"C {P(177,1296)} {P(197,1295)} {P(202,1309)} C {P(208,1308)} {P(212,1313)} {P(212,1317)} "
         f"C {P(218,1319)} {P(217,1329)} {P(211,1329)} Z")
shapes.append(dict(type="path", xref="paper", yref="paper", path=cloud, fillcolor="#2196f3", line_width=0, layer="above"))
shapes.append(dict(type="path", xref="paper", yref="paper",
                   path=f"M {P(167,1325)} L {P(183,1310)} L {P(197,1322)} L {P(213,1308)}",
                   line=dict(color="white", width=2), layer="above"))
for cx, cy in ((183, 1310), (197, 1322)):
    shapes.append(dict(type="circle", xref="paper", yref="paper", x0=px(cx - 3.5), x1=px(cx + 3.5), y0=py(cy + 3.5), y1=py(cy - 3.5),
                       fillcolor="white", line_width=0, layer="above"))

# ---------- texts ----------
ann = []
HEAD = 24.3
def text_px(x, y, s, size=HEAD, color="#131722", anchor="left"):
    ann.append(dict(xref="paper", yref="paper", x=px(x - 2), y=py(y), text=s, showarrow=False, xanchor=anchor, yanchor="middle",
                    font=dict(family=FONT, size=size, color=color), align="left"))
RV = "#ef5350"
text_px(12, 24, "<b>FilFox</b>", color="#2196f3")
text_px(86, 24, "published on TradingView.com, December 09, 2019 06:46:08 +03")
text_px(12, 58, "<b>BITSTAMP:ETHUSD, 60</b>")
text_px(286, 58, "150.280")
text_px(382, 58, "\u25BC", size=31, color=RV)
text_px(411, 58, "\u22120.340 (\u22120.23%)")
text_px(602, 58, "<b>O:</b>")
text_px(631, 58, "150.300", color=RV)
text_px(728, 58, "<b>H:</b>")
text_px(758, 58, "150.410", color=RV)
text_px(856, 58, "<b>L:</b>")
text_px(879, 58, "150.010", color=RV)
text_px(976, 58, "<b>C:</b>")
text_px(1002, 58, "150.280", color=RV)
text_px(12, 1315, "Created with", size=24.5)
text_px(220, 1315, "TradingView", size=24.5, color="#2196f3")
text_px(1771, 501, "150.620", size=21, color="white")
text_px(1771, 535, "150.280", size=21, color="white")
text_px(1771, 569, "148.006", size=21, color="white")

dom_x = [px(L), px(R)]
axis_common = dict(showline=False, zeroline=False, ticks="outside", ticklen=8, tickwidth=2, tickcolor=FRAME,
                   tickfont=dict(family=FONT, size=21, color=TXT), gridcolor=GRID, gridwidth=1.5, fixedrange=True)

fig.update_layout(
    width=W, height=H, autosize=False, margin=dict(l=0, r=0, t=0, b=0, pad=0, autoexpand=False),
    paper_bgcolor="white", plot_bgcolor="white", showlegend=False,
    barmode="overlay", bargap=0, boxmode="overlay", boxgap=0, boxgroupgap=0,
    shapes=shapes, annotations=ann,
    xaxis=dict(domain=dom_x, range=[HOUR_MIN, HOUR_MAX], anchor="y3", tickmode="array", tickvals=time_tick_hours, ticktext=time_tick_labels,
               rangeslider=dict(visible=False), showgrid=True, ticklabelstandoff=2, **axis_common),
    xaxis2=dict(domain=dom_x, range=[5211, -9], overlaying="x", anchor="y", visible=False, fixedrange=True),
    yaxis4=dict(domain=[py(MAIN_B), py(TOP)], range=[0, 889], anchor="x", visible=False, fixedrange=True),
    yaxis=dict(domain=[py(MAIN_B), py(TOP)], range=[128.97, 169.585], anchor="x", side="right", overlaying="y4", tickmode="array",
               tickvals=price_ticks, ticktext=price_tick_labels, showgrid=True, **axis_common),
    yaxis2=dict(domain=[py(STOCH_B), py(MAIN_B)], range=[-7.7, 107.7], anchor="x", side="right", tickmode="array",
                tickvals=stoch_ticks, ticktext=stoch_tick_labels, showgrid=True, **axis_common),
    yaxis3=dict(domain=[py(MACD_B), py(STOCH_B)], range=[-5.86, 2.68], anchor="x", side="right", tickmode="array",
                tickvals=macd_ticks, ticktext=macd_tick_labels, showgrid=True, **axis_common),
)

fig.write_html("out.html", config=dict(displayModeBar=False, staticPlot=True),
               post_script="document.body.style.margin='0';document.documentElement.style.overflow='hidden';")
